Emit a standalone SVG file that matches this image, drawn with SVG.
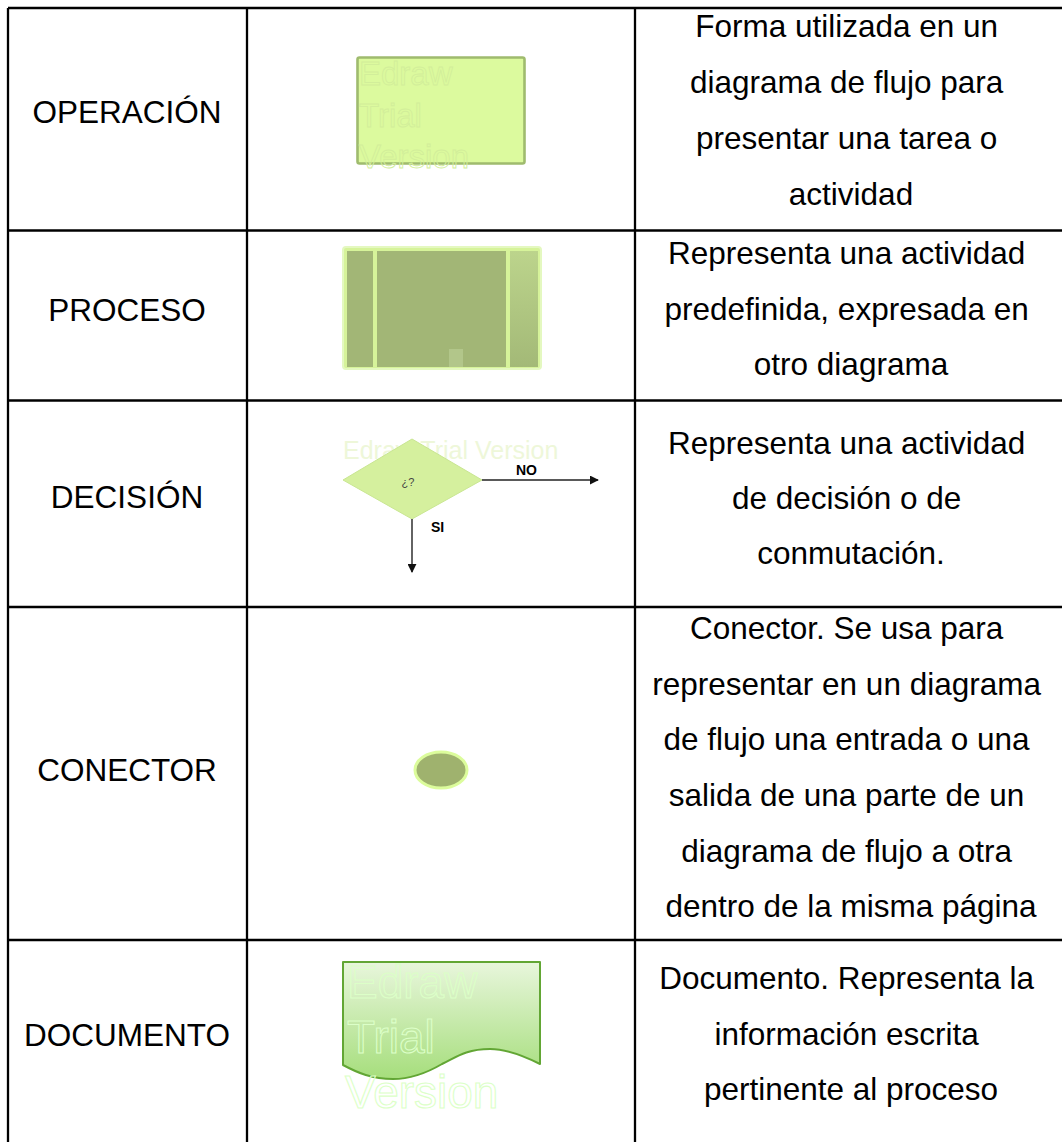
<svg xmlns="http://www.w3.org/2000/svg" width="1062" height="1142" viewBox="0 0 1062 1142">
  <defs>
    <style>
      .cell { font-family: "Liberation Sans", Arial, sans-serif; font-size: 31.5px; fill: #000; }
      .mid { text-anchor: middle; }
      .grid { stroke: #000; stroke-width: 2.3; fill: none; }
      .wm { font-family: "Liberation Sans", Arial, sans-serif; fill: none; }
      .lbl { font-family: "Liberation Sans", Arial, sans-serif; font-weight: bold; font-size: 14px; fill: #000; }
      .arrow { stroke: #222; stroke-width: 1.4; fill: none; }
    </style>
    <linearGradient id="docGrad" x1="0" y1="0" x2="0" y2="1">
      <stop offset="0" stop-color="#e8f6dc"/>
      <stop offset="1" stop-color="#a6de7c"/>
    </linearGradient>
    <linearGradient id="rightPanel" x1="0" y1="0" x2="0" y2="1">
      <stop offset="0" stop-color="#bcd48c"/>
      <stop offset="1" stop-color="#a3b977"/>
    </linearGradient>
    <marker id="arr" viewBox="0 0 10 10" refX="9" refY="5" markerWidth="9" markerHeight="9" markerUnits="userSpaceOnUse" orient="auto">
      <path d="M0,0 L10,5 L0,10 Z" fill="#111"/>
    </marker>
  </defs>

  <rect x="0" y="0" width="1062" height="1142" fill="#fff"/>

  <!-- table grid -->
  <g id="grid" class="grid">
    <line x1="8" y1="8" x2="1062" y2="8"/>
    <line x1="8" y1="230.5" x2="1062" y2="230.5"/>
    <line x1="8" y1="400.5" x2="1062" y2="400.5"/>
    <line x1="8" y1="607" x2="1062" y2="607"/>
    <line x1="8" y1="940" x2="1062" y2="940"/>
    <line x1="8" y1="8" x2="8" y2="1142"/>
    <line x1="247" y1="8" x2="247" y2="1142"/>
    <line x1="635" y1="8" x2="635" y2="1142"/>
  </g>

  <!-- Row 1: OPERACIÓN -->
  <g id="operacion">
    <text class="cell mid" x="127" y="123">OPERACIÓN</text>
    <rect x="357.5" y="57.5" width="167" height="106" rx="2" fill="#dcfa9e" stroke="#9fbb6e" stroke-width="2.6"/>
    <g class="wm" font-size="33" stroke="#d2ee9a" stroke-width="0.9">
      <text x="359" y="85">Edraw</text>
      <text x="359" y="127">Trial</text>
      <text x="359" y="168">Version</text>
    </g>
    <text class="cell mid" x="851">
      <tspan x="851" y="37">Forma utilizada en un</tspan>
      <tspan x="851" y="93">diagrama de flujo para</tspan>
      <tspan x="851" y="149">presentar una tarea o</tspan>
      <tspan x="851" y="205">actividad</tspan>
    </text>
  </g>

  <!-- Row 2: PROCESO -->
  <g id="proceso">
    <text class="cell mid" x="127" y="321">PROCESO</text>
    <rect x="343" y="247" width="198" height="122" rx="3" fill="#d6f39a" stroke="#e4f8c0" stroke-width="2"/>
    <rect x="347" y="251" width="26" height="116" fill="#a2b676"/>
    <rect x="377" y="251" width="129" height="116" fill="#a2b676"/>
    <rect x="510" y="251" width="28" height="116" fill="url(#rightPanel)"/>
    <rect x="449" y="349" width="14" height="18" fill="#b2c68a"/>
    <text class="cell mid" x="851">
      <tspan x="851" y="264">Representa una actividad</tspan>
      <tspan x="851" y="320">predefinida, expresada en</tspan>
      <tspan x="851" y="375">otro diagrama</tspan>
    </text>
  </g>

  <!-- Row 3: DECISIÓN -->
  <g id="decision">
    <text class="cell mid" x="127" y="508">DECISIÓN</text>
    <text x="343" y="459" font-family="Liberation Sans, Arial, sans-serif" font-size="25" fill="#eef7d9">Edraw Trial Version</text>
    <polygon points="343,480 412,439 482,480 412,519" fill="#d5f09e" stroke="#c9e692" stroke-width="1"/>
    <text x="408" y="486" text-anchor="middle" font-family="Liberation Sans, Arial, sans-serif" font-size="11" fill="#444">¿?</text>
    <text class="lbl" x="516" y="475">NO</text>
    <text class="lbl" x="431" y="532">SI</text>
    <text class="cell mid" x="851">
      <tspan x="851" y="454">Representa una actividad</tspan>
      <tspan x="851" y="509">de decisión o de</tspan>
      <tspan x="851" y="564">conmutación.</tspan>
    </text>
  </g>

  <!-- Row 4: CONECTOR -->
  <g id="conector">
    <text class="cell mid" x="127" y="781">CONECTOR</text>
    <ellipse cx="441" cy="770" rx="26" ry="18" fill="#9fb26e" stroke="#dcfc9c" stroke-width="3"/>
    <text class="cell mid" x="851">
      <tspan x="851" y="639">Conector. Se usa para</tspan>
      <tspan x="851" y="695">representar en un diagrama</tspan>
      <tspan x="851" y="750">de flujo una entrada o una</tspan>
      <tspan x="851" y="806">salida de una parte de un</tspan>
      <tspan x="851" y="862">diagrama de flujo a otra</tspan>
      <tspan x="851" y="917">dentro de la misma página</tspan>
    </text>
  </g>

  <!-- Row 5: DOCUMENTO -->
  <g id="documento">
    <text class="cell mid" x="127" y="1046">DOCUMENTO</text>
    <path d="M343,962 L540,962 L540,1064 C520,1054 505,1049 490,1049 C465,1049 455,1058 442,1064 C425,1074 410,1079 393,1079 C372,1079 358,1073 343,1065 Z" fill="url(#docGrad)" stroke="#62a634" stroke-width="2" stroke-linejoin="round"/>
    <g class="wm" font-size="46" stroke="#dcffc8" stroke-width="1.1">
      <text x="347" y="998">Edraw</text>
      <text x="347" y="1053">Trial</text>
      <text x="345" y="1108">Version</text>
    </g>
    <text class="cell mid" x="851">
      <tspan x="851" y="989">Documento. Representa la</tspan>
      <tspan x="851" y="1045">información escrita</tspan>
      <tspan x="851" y="1100">pertinente al proceso</tspan>
    </text>
  </g>

  <!-- connectors -->
  <g id="connectors">
    <line class="arrow" x1="482" y1="480" x2="598" y2="480" marker-end="url(#arr)"/>
    <line class="arrow" x1="412" y1="519" x2="412" y2="572" marker-end="url(#arr)"/>
  </g>
</svg>
